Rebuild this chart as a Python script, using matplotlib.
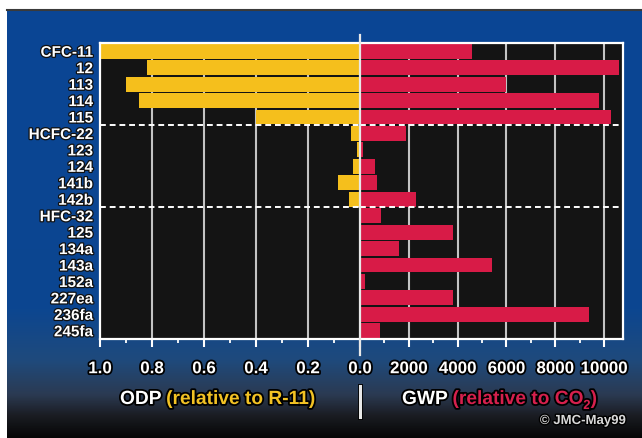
import numpy as np
import matplotlib
matplotlib.use("Agg")
import matplotlib.pyplot as plt
import matplotlib.patheffects as pe
from matplotlib.colors import LinearSegmentedColormap
from matplotlib.lines import Line2D
from matplotlib.ticker import MultipleLocator

# ---- data ----
compounds = ["CFC-11", "12", "113", "114", "115", "HCFC-22", "123", "124",
             "141b", "142b", "HFC-32", "125", "134a", "143a", "152a",
             "227ea", "236fa", "245fa"]
odp = [1.0, 0.82, 0.90, 0.85, 0.40, 0.034, 0.012, 0.026, 0.086, 0.043,
       0, 0, 0, 0, 0, 0, 0, 0]
gwp = [4600, 10600, 6000, 9800, 10300, 1900, 120, 620, 700, 2300,
       880, 3800, 1600, 5400, 190, 3800, 9400, 820]
odp_ticks = [1.0, 0.8, 0.6, 0.4, 0.2, 0.0]
odp_ticklabels = ["1.0", "0.8", "0.6", "0.4", "0.2", "0.0"]
gwp_ticks = [2000, 4000, 6000, 8000, 10000]
gwp_ticklabels = ["2000", "4000", "6000", "8000", "10000"]
group_breaks = [4.5, 9.5]

YELLOW = "#f5bf1c"
RED = "#d81b47"
LBL_YELLOW = "#f2c224"
LBL_RED = "#d6204d"
PLOT_BG = "#141414"
GRID = "#c4c4c4"
FONT = "Liberation Sans"

W, H = 642, 438
fig = plt.figure(figsize=(W / 100, H / 100), dpi=100)
fig.patch.set_facecolor("white")

def fx(px):
    return px / W

def fy(py):
    return 1 - py / H

stroke = [pe.withStroke(linewidth=2.6, foreground="black")]

# ---- background gradient ----
bg = fig.add_axes([fx(7), 0, 1 - fx(7), fy(10)])
cmap = LinearSegmentedColormap.from_list("bgc", [
    (0.0, "#0a4595"), (0.70, "#0c4690"), (0.82, "#1f4a7c"),
    (0.90, "#2b3a52"), (0.95, "#1a1c22"), (1.0, "#060606")])
grad = np.linspace(0, 1, 256).reshape(-1, 1)
bg.imshow(grad, aspect="auto", cmap=cmap, extent=[0, 1, 0, 1], origin="upper")
bg.set_xlim(0, 1)
bg.set_ylim(0, 1)
bg.axis("off")
bg.plot([0, 1], [1, 1], color="#3a3a3a", lw=1.5, transform=bg.transAxes, clip_on=False)

# ---- axes ----
top_px, bot_px = 43, 339
left_px, mid_px, right_px = 100, 360, 623
ax1 = fig.add_axes([fx(left_px), fy(bot_px), fx(mid_px - left_px), fy(top_px) - fy(bot_px)])
ax2 = fig.add_axes([fx(mid_px), fy(bot_px), fx(right_px - mid_px), fy(top_px) - fy(bot_px)])

ypos = np.arange(len(compounds))
gwp_max = 10780

for ax in (ax1, ax2):
    ax.set_facecolor(PLOT_BG)
    ax.set_ylim(len(compounds) - 0.5, -0.5)
    for s in ax.spines.values():
        s.set_color("white")
        s.set_linewidth(1.6)
    ax.tick_params(axis="y", length=0)
    ax.tick_params(axis="x", which="major", colors="white", length=6, width=1.5,
                   direction="out", pad=10)
    ax.tick_params(axis="x", which="minor", colors="white", length=3, width=1.3,
                   direction="out")

ax1.set_xlim(1.0, 0.0)
ax2.set_xlim(0, gwp_max)
ax1.spines["right"].set_visible(False)
ax2.spines["left"].set_visible(False)

# grid lines
for v in odp_ticks[1:-1]:
    ax1.axvline(v, color=GRID, lw=1.5, zorder=1)
for v in gwp_ticks:
    ax2.axvline(v, color=GRID, lw=1.5, zorder=1)

ax1.barh(ypos, odp, height=0.9, color=YELLOW, zorder=2)
ax2.barh(ypos, gwp, height=0.9, color=RED, zorder=2)

for ax in (ax1, ax2):
    for b in group_breaks:
        ax.axhline(b, color="white", lw=1.4, ls=(0, (3, 2)), zorder=3)

ax1.set_xticks(odp_ticks)
ax1.set_xticklabels(odp_ticklabels)
ax1.xaxis.set_minor_locator(MultipleLocator(0.1))
ax2.set_xticks(gwp_ticks)
ax2.set_xticklabels(gwp_ticklabels)
ax2.xaxis.set_minor_locator(MultipleLocator(1000))

for lab in ax1.get_xticklabels() + ax2.get_xticklabels():
    lab.set_fontfamily(FONT)
    lab.set_fontweight("bold")
    lab.set_fontsize(12.2)
    lab.set_color("white")
    lab.set_path_effects(stroke)

ax1.set_yticks(ypos)
ax1.set_yticklabels(compounds)
ax1.tick_params(axis="y", pad=5)
for lab in ax1.get_yticklabels():
    lab.set_fontfamily(FONT)
    lab.set_fontweight("bold")
    lab.set_fontsize(11)
    lab.set_color("white")
    lab.set_path_effects([pe.withStroke(linewidth=1.8, foreground="#111111")])
ax2.set_yticks([])

# centre line and divider
fig.add_artist(Line2D([fx(mid_px), fx(mid_px)], [fy(35), fy(355)], color="#e8e8e8", lw=1.6))
fig.add_artist(Line2D([fx(mid_px), fx(mid_px)], [fy(386), fy(417)], color="#e8e8e8", lw=2.2,
                      path_effects=[pe.withStroke(linewidth=3.5, foreground="black")]))

# ---- multi-coloured axis titles ----
renderer = fig.canvas.get_renderer()

def chain(x_px, base_px, pieces):
    x = x_px
    for txt, color, size, dy in pieces:
        t = fig.text(fx(x), fy(base_px + dy), txt, color=color, fontsize=size,
                     fontfamily=FONT, fontweight="bold", va="baseline", ha="left",
                     path_effects=stroke)
        ext = t.get_window_extent(renderer=renderer)
        x += ext.width

chain(120, 404, [("ODP ", "white", 13.8, 0), ("(relative to R-11)", LBL_YELLOW, 13.8, 0)])
chain(402, 404, [("GWP ", "white", 13.8, 0), ("(relative to CO", LBL_RED, 13.8, 0),
                 ("2", LBL_RED, 9.5, 5), (")", LBL_RED, 13.8, 0)])

fig.text(fx(626), fy(424), "\u00a9 JMC-May99", color="#d8d8d8", fontsize=9.5,
         fontfamily=FONT, fontweight="bold", ha="right", va="baseline",
         path_effects=[pe.withStroke(linewidth=2, foreground="black")])

fig.savefig("out.png", dpi=100)
